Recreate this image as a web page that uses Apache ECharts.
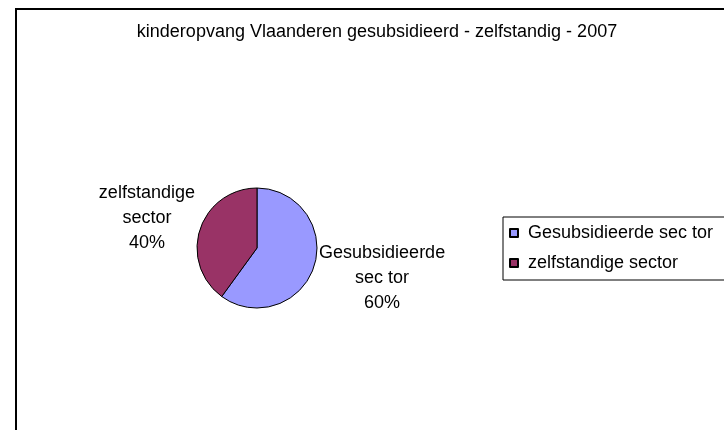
<!DOCTYPE html>
<html>
<head>
<meta charset="utf-8">
<script src="https://cdn.jsdelivr.net/npm/echarts@6/dist/echarts.min.js"></script>
<style>
  html, body { margin: 0; padding: 0; background: #fff; }
  #chart { width: 724px; height: 430px; }
</style>
</head>
<body>
<div id="chart"></div>
<script>
var titleText = "kinderopvang Vlaanderen gesubsidieerd - zelfstandig - 2007"
var categories = ["Gesubsidieerde sec tor", "zelfstandige sector"]
var values = [60, 40]
var colors = ["#9999FF", "#993366"]

var font = "Liberation Sans, Arial, sans-serif"

var chartDom = document.getElementById("chart")
var myChart = echarts.init(chartDom)

var data = categories.map(function(name, i){
    return { name: name, value: values[i] }
})

var option = {
    animation: false,
    color: colors,
    title: {
        text: titleText,
        left: 377,
        top: 23,
        padding: 0,
        textAlign: "center",
        textStyle: { fontFamily: font, fontSize: 18, fontWeight: "normal", color: "#000" }
    },
    legend: {
        orient: "vertical",
        left: 503,
        top: 217,
        padding: [6, 40, 7, 6],
        itemGap: 10,
        itemWidth: 8,
        itemHeight: 8,
        icon: "rect",
        borderColor: "#000",
        borderWidth: 1,
        textStyle: { fontFamily: font, fontSize: 18, color: "#000", padding: [0, 0, 0, 5], lineHeight: 20 },
        data: categories
    },
    graphic: [{
        type: "rect",
        shape: { x: 16, y: 9, width: 800, height: 500 },
        style: { fill: "none", stroke: "#000", lineWidth: 2 },
        silent: true
    }],
    series: [{
        name: "kinderopvang",
        type: "pie",
        center: [257, 248],
        radius: 60,
        startAngle: 90,
        clockwise: true,
        itemStyle: { borderColor: "#000", borderWidth: 1 },
        emphasis: { disabled: true },
        label: {
            show: true,
            position: "outside",
            color: "#000",
            fontFamily: font,
            fontSize: 18,
            formatter: function(p){
                var i = p.name.indexOf(" ")
                return "{t|" + p.name.slice(0, i) + "}\n{t|" + p.name.slice(i + 1) + "}\n{t|" + p.percent + "%}"
            },
            rich: {
                t: { align: "center", fontFamily: font, fontSize: 18, lineHeight: 25, color: "#000" }
            }
        },
        labelLine: { show: false, length: 0, length2: 0 },
        labelLayout: function(params){
            return { dy: params.dataIndex === 0 ? 11 : -11 }
        },
        data: data
    }]
}
myChart.setOption(option)
</script>
</body>
</html>
